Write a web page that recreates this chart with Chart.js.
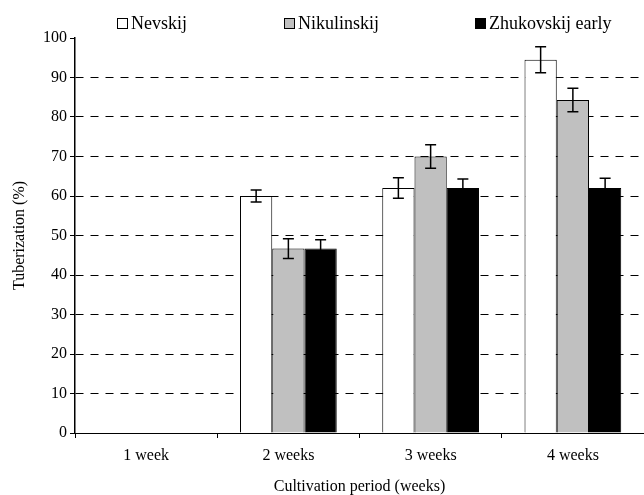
<!DOCTYPE html>
<html lang="en">

<head>
    <meta charset="UTF-8">
    <title>Tuberization chart</title>
    <script src="https://cdn.jsdelivr.net/npm/chart.js"></script>
    <style>
        body { margin: 0; background: #fff; }
    </style>
    <script>
        // data
        const categories = ['1 week', '2 weeks', '3 weeks', '4 weeks'];
        const seriesNames = ['Nevskij', 'Nikulinskij', 'Zhukovskij early'];
        const nevskij = [0, 60, 62, 94.5];
        const nikulinskij = [0, 46.7, 70, 84.3];
        const zhukovskij = [0, 46.7, 62, 62];
        const nevskijErr = [0, 1.5, 2.6, 3.3];
        const nikulinskijErr = [0, 2.5, 3, 3];
        const zhukovskijErr = [0, 2.2, 2.3, 2.5];
        const yTicks = [0, 10, 20, 30, 40, 50, 60, 70, 80, 90, 100];

        const serif = '"Liberation Serif", "Times New Roman", serif';

        // error bars drawn on top of the bars
        const errorBars = {
            id: 'errorBars',
            afterDatasetsDraw(chart) {
                const ctx = chart.ctx;
                const y = chart.scales.y;
                chart.data.datasets.forEach((ds, i) => {
                    const meta = chart.getDatasetMeta(i);
                    meta.data.forEach((bar, j) => {
                        const err = ds.errors[j];
                        if (!err) return;
                        const v = ds.data[j];
                        const top = y.getPixelForValue(v + err);
                        const bot = y.getPixelForValue(v - err);
                        ctx.save();
                        ctx.strokeStyle = ds.errorColor;
                        ctx.lineWidth = 1.5;
                        ctx.beginPath();
                        ctx.moveTo(bar.x, top);
                        ctx.lineTo(bar.x, bot);
                        ctx.moveTo(bar.x - 5.5, top);
                        ctx.lineTo(bar.x + 5.5, top);
                        ctx.moveTo(bar.x - 5.5, bot);
                        ctx.lineTo(bar.x + 5.5, bot);
                        ctx.stroke();
                        ctx.restore();
                    });
                });
            }
        };

        // legend spread across the top like the original
        const topLegend = {
            id: 'topLegend',
            afterDraw(chart) {
                const ctx = chart.ctx;
                const xs = [117, 284, 475];
                ctx.save();
                ctx.font = '18px ' + serif;
                ctx.textBaseline = 'middle';
                chart.data.datasets.forEach((ds, i) => {
                    ctx.fillStyle = ds.backgroundColor;
                    ctx.fillRect(xs[i] + 0.5, 18.5, 10, 10);
                    ctx.strokeStyle = '#000';
                    ctx.lineWidth = 1;
                    ctx.strokeRect(xs[i] + 0.5, 18.5, 10, 10);
                    ctx.fillStyle = '#000';
                    ctx.fillText(ds.label, xs[i] + 14, 24);
                });
                ctx.restore();
            }
        };

        function createChart() {
            const ctx = document.getElementById('myChart').getContext('2d');
            new Chart(ctx, {
                type: 'bar',
                data: {
                    labels: categories,
                    datasets: [{
                        label: seriesNames[0],
                        data: nevskij,
                        errors: nevskijErr,
                        backgroundColor: '#ffffff',
                        errorColor: '#000',
                        borderColor: '#000',
                        borderWidth: 1
                    }, {
                        label: seriesNames[1],
                        data: nikulinskij,
                        errors: nikulinskijErr,
                        backgroundColor: '#c0c0c0',
                        errorColor: '#000',
                        borderColor: '#000',
                        borderWidth: 1
                    }, {
                        label: seriesNames[2],
                        data: zhukovskij,
                        errors: zhukovskijErr,
                        backgroundColor: '#000000',
                        errorColor: '#000',
                        borderColor: '#000',
                        borderWidth: 1
                    }]
                },
                options: {
                    responsive: false,
                    animation: false,
                    categoryPercentage: 0.68,
                    barPercentage: 1,
                    layout: { padding: { top: 38, left: 0, right: 0, bottom: 0 } },
                    plugins: {
                        legend: { display: false },
                        tooltip: { enabled: false }
                    },
                    scales: {
                        x: {
                            offset: true,
                            grid: {
                                drawOnChartArea: false,
                                drawTicks: true,
                                tickLength: 5,
                                color: '#000',
                                tickColor: '#000'
                            },
                            border: { color: '#000', width: 1 },
                            ticks: {
                                color: '#000',
                                padding: 8,
                                font: { family: serif, size: 16 }
                            },
                            title: {
                                display: true,
                                text: 'Cultivation period (weeks)',
                                color: '#000',
                                font: { family: serif, size: 16, lineHeight: 1 },
                                padding: { top: 10, bottom: 0 }
                            },
                            afterFit(scale) { scale.height = 62; }
                        },
                        y: {
                            min: 0,
                            max: 100,
                            afterBuildTicks(scale) {
                                scale.ticks = yTicks.map(v => ({ value: v }));
                            },
                            grid: {
                                color: c => (c.tick && (c.tick.value === 0 || c.tick.value === 100)) ? 'rgba(0,0,0,0)' : '#000',
                                tickColor: '#000',
                                tickLength: 5,
                                tickBorderDash: [],
                                lineWidth: 1
                            },
                            border: { color: '#000', width: 1.5, dash: [8, 7] },
                            ticks: {
                                color: '#000',
                                padding: 3,
                                font: { family: serif, size: 16 }
                            },
                            title: {
                                display: true,
                                text: 'Tuberization (%)',
                                color: '#000',
                                font: { family: serif, size: 16 },
                                padding: { top: 10, bottom: 0 }
                            },
                            afterFit(scale) { scale.width = 75; }
                        }
                    }
                },
                plugins: [errorBars, topLegend]
            });
        }

        document.addEventListener('DOMContentLoaded', createChart);
    </script>
</head>

<body>
    <canvas id="myChart" width="644" height="495"></canvas>
</body>

</html>
